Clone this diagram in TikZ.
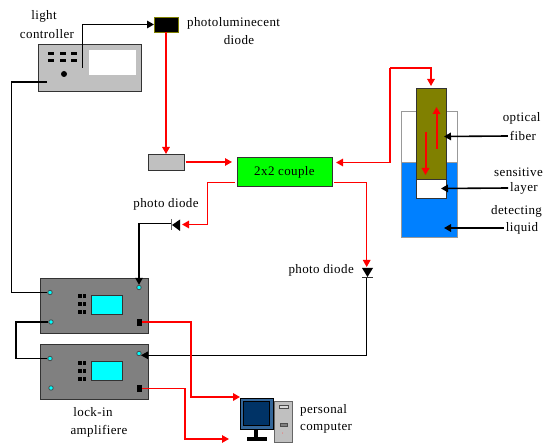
\documentclass[tikz,border=0pt]{standalone}
\usepackage{fontspec}
\setmainfont[LetterSpace=3]{Liberation Serif}
\usetikzlibrary{arrows.meta}
\definecolor{panelgray}{HTML}{C0C0C0}
\definecolor{ampgray}{HTML}{808080}
\definecolor{fiberolive}{HTML}{808000}
\definecolor{liquidblue}{HTML}{0080FF}
\definecolor{couplegreen}{HTML}{00FF00}
\definecolor{screencyan}{HTML}{00FFFF}
\definecolor{screennavy}{HTML}{003366}
\definecolor{bezelblue}{HTML}{336699}
\tikzset{
  box/.style={draw=#1, line width=0.9pt, inner sep=0pt, outer sep=0pt},
  box/.default=black!80,
  lbl/.style={font=\fontsize{13}{14}\selectfont, inner sep=0pt, align=center},
  redline/.style={draw=red, line width=1.4pt, -{Triangle[length=7pt,width=7.5pt]}},
  redthick/.style={draw=red, line width=2pt, -{Triangle[length=7pt,width=7.5pt]}},
  blackline/.style={draw=black, line width=1.3pt, -{Triangle[length=7pt,width=7.5pt]}},
  blackthick/.style={draw=black, line width=1.6pt, -{Triangle[length=7pt,width=7.5pt]}},
  blackwire/.style={draw=black, line width=1.3pt},
  port/.style={circle, fill=screencyan, draw=black!70, line width=0.8pt, minimum size=4.5pt, inner sep=0pt},
  jack/.style={fill=black, minimum width=5pt, minimum height=7pt, inner sep=0pt},
}
\begin{document}
\begin{tikzpicture}[x=1pt,y=-1pt]
  \useasboundingbox (0,0) rectangle (543,443);
  % light controller
  \node [box, fill=panelgray, minimum width=103pt, minimum height=47pt] (controller) at (89.5,67.5) {};
  \node [fill=white, minimum width=47pt, minimum height=25pt, inner sep=0pt] (display) at (112.5,62.5) {};
  \foreach \dx in {51,63,74}
    \foreach \dy in {53.5,60.5}
      \fill (\dx-3,\dy-1.5) rectangle (\dx+3,\dy+1.5);
  \fill (64,74) circle (3);
  \coordinate (ctrlout) at (82.5,68);
  \coordinate (ctrlleft) at (47,82);
  \node [lbl] (lightlbl) at (44,16) {light};
  \node [lbl] (ctrllbl) at (47,34) {controller};
  % diode and source
  \node [box=fiberolive, fill=black, minimum width=24pt, minimum height=15pt] (pldiode) at (166,24.5) {};
  \node [lbl, anchor=west] (pllbl) at (187,23) {photoluminecent};
  \node [lbl] (pllblb) at (239,40) {diode};
  \node [box, fill=panelgray, minimum width=36pt, minimum height=16pt] (source) at (166,162) {};
  % coupler
  \node [box, fill=couplegreen, minimum width=95pt, minimum height=29.5pt, font=\fontsize{13}{14}\selectfont] (couple) at (284.5,172.2) {2x2 couple};
  % photo diodes
  \fill (180,219.5) -- (180,231) -- (172,225) -- cycle;
  \draw [black!60, line width=1pt] (171,219) -- (171,230);
  \coordinate (pdleftin) at (182,224.5);
  \coordinate (pdleftout) at (171,223.5);
  \node [lbl] (pdleftlbl) at (166,204) {photo diode};
  \fill (362,268) -- (373,268) -- (367.5,277) -- cycle;
  \draw [black!80, line width=1pt] (362,277.5) -- (373,277.5);
  \coordinate (pdrightin) at (366.7,267);
  \coordinate (pdrightout) at (366.7,278);
  \node [lbl, anchor=east] (pdrightlbl) at (354,270) {photo diode};
  % beaker and fiber
  \draw [fill=white, draw=black!40, line width=1pt] (401.7,112) rectangle (457,237.7);
  \node [box=black!40, fill=liquidblue, minimum width=55.3pt, minimum height=75pt, anchor=north west] (liquid) at (401.7,162.7) {};
  \node [box, fill=fiberolive, minimum width=29.3pt, minimum height=91pt, anchor=north west] (fiber) at (416.7,88) {};
  \node [box, fill=white, minimum width=29.3pt, minimum height=19pt, anchor=north west] (layer) at (416.7,179) {};
  \coordinate (upstart) at (436.5,149);
  \coordinate (upend) at (436.5,107);
  \coordinate (downstart) at (425.5,132);
  \coordinate (downend) at (425.5,175);
  \coordinate (fibertop) at (431,86);
  \draw [redthick] (upstart) -- (upend);
  \draw [redthick] (downstart) -- (downend);
  \node [lbl] (opticallbl) at (521.7,118) {optical};
  \node [lbl] (fiberlbl) at (523,136) {fiber};
  \node [lbl, anchor=west] (senslbl) at (494,172) {sensitive};
  \node [lbl] (layerlbl) at (524,188) {layer};
  \node [lbl, anchor=west] (detlbl) at (491,211) {detecting};
  \node [lbl] (liquidlbl) at (522,228) {liquid};
  \coordinate (fiberin) at (444,136.5);
  \coordinate (layerin) at (441,188.5);
  \coordinate (liquidin) at (444,228);
  \draw [blackthick] (fiberlbl.west) ++(-2,0) -- (fiberin);
  \draw [blackthick] (layerlbl.west) ++(-2,0) -- (layerin);
  \draw [blackthick] (liquidlbl.west) ++(-2,0) -- (liquidin);
  % lock-in amplifiers
  \foreach \amp/\ay in {ampa/278,ampb/344}{
    \node [box, fill=ampgray, minimum width=108.5pt, minimum height=55pt, anchor=north west] (\amp) at (40,\ay) {};
    \node [box, fill=screencyan, minimum width=31pt, minimum height=19.5pt, anchor=north west] (\amp screen) at (91,\ay+17) {};
    \foreach \kx in {80,84.5}
      \foreach \ky in {18.5,26.5,34.5}
        \fill (\kx-1.8,\ay+\ky-2) rectangle (\kx+1.8,\ay+\ky+2);
    \node [port] (\amp ina) at (50,\ay+14.5) {};
    \node [port] (\amp inb) at (51,\ay+44) {};
    \node [port] (\amp sig) at (139,\ay+9.5) {};
    \node [jack] (\amp out) at (139.5,\ay+44.5) {};
  }
  \node [lbl] (lockinlbl) at (93,412) {lock-in};
  \node [lbl] (amplbl) at (99,431) {amplifiere};
  % computer
  \node [box=black, fill=bezelblue, minimum width=33pt, minimum height=31pt, anchor=north west] (monitor) at (240,398) {};
  \node [box=black, fill=screennavy, minimum width=26pt, minimum height=24pt] (screen) at (256.5,413.5) {};
  \fill (254,429) rectangle (257.5,437);
  \fill (247,437) rectangle (267,441);
  \node [box=black!60, fill=panelgray, minimum width=18pt, minimum height=41pt, anchor=north west] (tower) at (274,401) {};
  \draw [black!70, fill=white!85!black] (279,405) rectangle (288,408);
  \draw [black!70, fill=black!50] (280,423) rectangle (287,426);
  \fill [red!70] (282.5,433) circle (0.5);
  \node [lbl, anchor=west] (pclbl) at (300,410) {personal};
  \node [lbl, anchor=west] (pclblb) at (300,428) {computer};
  \coordinate (pcin) at (240,397);
  \coordinate (pcinb) at (229,439);
  \coordinate (bendpc) at (191,397);
  \coordinate (bendpcb) at (185,439);
  \coordinate (ampbtip) at (141,355.3);
  \coordinate (fiberbend) at (390,68);
  \coordinate (couplertip) at (336,162.5);
  % connectors
  \draw [blackthick] (ctrlout) |- (pldiode.west);
  \draw [blackwire] (ctrlleft) -- (11.5,82) |- (ampaina.west);
  \draw [redline] (pldiode.south) -- (source.north);
  \draw [redline] (source.east) ++(1.5,0) -- (232,162);
  \draw [redline] (couple.west |- 0,182.5) ++(-2,0) -- (207.5,182.5) |- (pdleftin);
  \draw [blackline] (pdleftout) -| (ampasig.north);
  \draw [redline] (couple.east |- 0,182.5) ++(2,0) -| (pdrightin);
  \draw [blackline] (pdrightout) |- (ampbtip);
  \draw [redline] (fiberbend) -| (fibertop);
  \draw [redline] (fiberbend) |- (couplertip);
  \draw [blackwire] (ampainb.west) -- (16,322) |- (ampbina.west);
  \draw [redthick] (ampaout.east) -| (bendpc) -- (pcin);
  \draw [redline] (ampbout.east) -| (bendpcb) -- (pcinb);
\end{tikzpicture}
\end{document}
